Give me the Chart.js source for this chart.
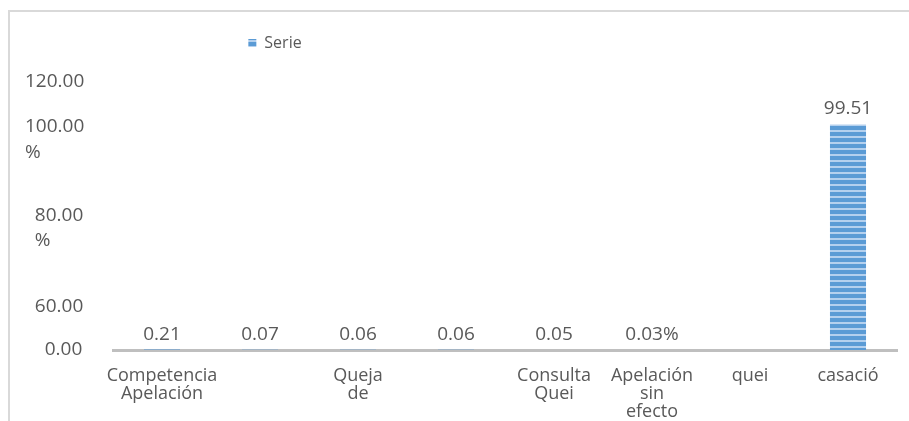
<!DOCTYPE html>
<html>
<head>
<meta charset="utf-8">
<script src="https://cdn.jsdelivr.net/npm/chart.js@4/dist/chart.umd.min.js"></script>
<style>
  html, body { margin: 0; padding: 0; background: #fff; }
  #wrap { position: relative; width: 909px; height: 421px; overflow: hidden; }
  #frame { position: absolute; left: 8px; top: 10px; width: 940px; height: 440px;
           border-top: 2px solid #d9d9d9; border-left: 2px solid #d9d9d9; }
  #chart { position: absolute; left: 0; top: 0; }
</style>
</head>
<body>
<div id="wrap">
  <div id="frame"></div>
  <canvas id="chart" width="909" height="421"></canvas>
</div>
<script>
// Chart data
const categories = [
  ['Competencia', 'Apelación'],
  '',
  ['Queja', 'de'],
  '',
  ['Consulta', 'Quei'],
  ['Apelación', 'sin', 'efecto'],
  'quei',
  'casació'
];
const seriesName = 'Serie';
const seriesValues = [0.21, 0.07, 0.06, 0.06, 0.05, 0.03, 0, 99.51];
const valueLabels = ['0.21', '0.07', '0.06', '0.06', '0.05', '0.03%', '', '99.51'];

// y axis as printed in the original (the axis is not linear there)
const tickValues = [0, 19.3, 53.8, 92.9, 118.2];
const tickLabels = ['0.00', '60.00', ['80.00', '%'], ['100.00', '%'], '120.00'];

const textColor = '#595959';
const barBlue = '#5b9bd5';

// striped fill for the bar
function stripePattern() {
  const c = document.createElement('canvas');
  c.width = 4;
  c.height = 6;
  const g = c.getContext('2d');
  g.fillStyle = barBlue;
  g.fillRect(0, 0, 4, 6);
  g.fillStyle = '#b4d0ee';
  g.fillRect(0, 4, 4, 2);
  return g.createPattern(c, 'repeat');
}

// values above bars
const valueLabelPlugin = {
  id: 'valueLabels',
  afterDatasetsDraw(chart) {
    const ctx = chart.ctx;
    const meta = chart.getDatasetMeta(0);
    ctx.save();
    ctx.fillStyle = textColor;
    ctx.font = '19px "Open Sans"';
    ctx.textAlign = 'center';
    ctx.textBaseline = 'alphabetic';
    meta.data.forEach((bar, i) => {
      if (!valueLabels[i]) return;
      ctx.fillText(valueLabels[i], bar.x, bar.y - 10);
    });
    ctx.restore();
  }
};

// legend sits left of centre and a bit higher in the original
const legendShift = {
  id: 'legendShift',
  afterLayout(chart) {
    const lg = chart.legend;
    if (!lg) return;
    lg.left = 0;
    lg.right = 550;
    lg.top -= 17;
    lg.bottom -= 17;
  }
};

function padLabel(label) {
  const lines = Array.isArray(label) ? label : [label];
  const pad = ' '.repeat(Math.max(0, (6 - lines[0].length) * 2));
  const out = lines.map(l => pad + l);
  return out.length > 1 ? out : out[0];
}

new Chart(document.getElementById('chart'), {
  type: 'bar',
  data: {
    labels: categories,
    datasets: [{
      label: seriesName,
      data: seriesValues,
      backgroundColor: stripePattern(),
      borderWidth: 0,
      barPercentage: 0.46,
      categoryPercentage: 0.8
    }]
  },
  options: {
    responsive: false,
    animation: false,
    layout: {
      padding: { top: 24, left: 25, right: 12, bottom: 0 }
    },
    plugins: {
      legend: {
        display: true,
        position: 'top',
        labels: {
          boxWidth: 8,
          boxHeight: 8,
          padding: 28,
          color: textColor,
          font: { family: '"Open Sans"', size: 16 }
        }
      },
      tooltip: { enabled: false }
    },
    scales: {
      x: {
        grid: { display: false },
        border: { display: true, color: '#bfbfbf', width: 3 },
        ticks: {
          color: textColor,
          autoSkip: false,
          maxRotation: 0,
          padding: 9,
          font: { family: '"Open Sans"', size: 18, lineHeight: 1 }
        },
        afterFit(scale) { scale.height = 71; }
      },
      y: {
        min: 0,
        max: 120,
        grid: { display: false },
        border: { display: false },
        afterBuildTicks(scale) {
          scale.ticks = tickValues.map(v => ({ value: v }));
        },
        ticks: {
          color: textColor,
          crossAlign: 'far',
          font: { family: '"Open Sans"', size: 19, lineHeight: 1.35 },
          callback: (value, index) => padLabel(tickLabels[index])
        },
        afterFit(scale) { scale.width = 88; }
      }
    }
  },
  plugins: [valueLabelPlugin, legendShift]
});
</script>
</body>
</html>
